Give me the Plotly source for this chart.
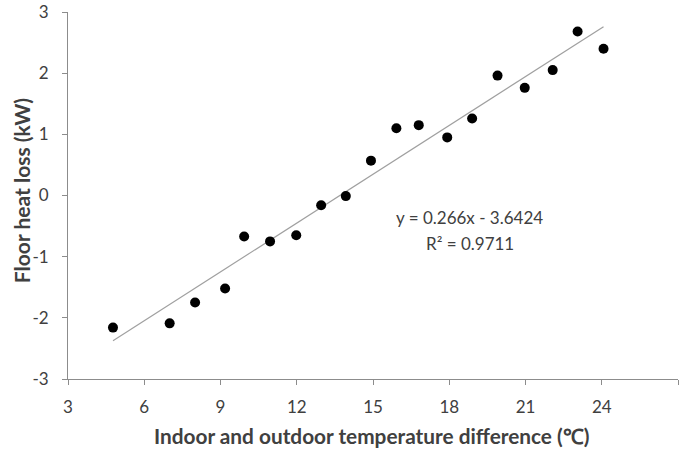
import plotly.graph_objects as go

temp_diff = [4.77, 7.0, 8.0, 9.18, 9.93, 10.95, 11.98, 12.96, 13.93, 14.92,
             15.92, 16.8, 17.92, 18.9, 19.9, 20.97, 22.07, 23.05, 24.07]
heat_loss = [-2.16, -2.09, -1.75, -1.52, -0.67, -0.75, -0.65, -0.16, -0.01, 0.57,
             1.10, 1.15, 0.95, 1.26, 1.96, 1.76, 2.05, 2.68, 2.40]
slope = 0.266
intercept = -3.6424
r2_text = "R² = 0.9711"
eq_text = "y = 0.266x - 3.6424"
x_ticks = [3, 6, 9, 12, 15, 18, 21, 24, 27]
y_ticks = [-3, -2, -1, 0, 1, 2, 3]
x_title = "Indoor and outdoor temperature difference (℃)"
y_title = "Floor heat loss (kW)"

x_line = [min(temp_diff), max(temp_diff)]
y_line = [slope * v + intercept for v in x_line]

font_family = "Lato, Open Sans, sans-serif"
txt = "#404040"
axc = "#8c8c8c"

fig = go.Figure()
fig.add_trace(go.Scatter(x=x_line, y=y_line, mode="lines",
                         line=dict(color="#a0a0a0", width=1.2), showlegend=False))
fig.add_trace(go.Scatter(x=temp_diff, y=heat_loss, mode="markers",
                         marker=dict(color="black", size=10), showlegend=False))

fig.update_layout(
    width=682, height=449,
    margin=dict(l=68, r=4, t=12, b=70),
    plot_bgcolor="white", paper_bgcolor="white",
    font=dict(family=font_family, color=txt, size=17),
    annotations=[
        dict(x=18.8, y=-0.36, xref="x", yref="y", text=eq_text, showarrow=False,
             font=dict(size=17, color=txt)),
        dict(x=18.8, y=-0.78, xref="x", yref="y", text=r2_text, showarrow=False,
             font=dict(size=17, color=txt)),
        dict(x=0.498, y=-0.153, xref="paper", yref="paper", text="<b>" + x_title + "</b>",
             showarrow=False, xanchor="center", yanchor="middle",
             font=dict(size=20.8, color=txt)),
        dict(x=-0.077, y=0.512, xref="paper", yref="paper", text="<b>" + y_title + "</b>",
             showarrow=False, xanchor="center", yanchor="middle", textangle=-90,
             font=dict(size=21, color=txt)),
    ],
)
fig.update_xaxes(range=[3, 27], tickvals=x_ticks, ticktext=[str(v) for v in x_ticks],
                 ticks="outside", ticklen=5, ticklabelstandoff=8,
                 tickcolor=axc, showline=True, linecolor=axc, linewidth=1,
                 showgrid=False, zeroline=False, automargin=False,
                 tickfont=dict(size=17, color=txt))
fig.update_yaxes(range=[-3, 3], tickvals=y_ticks, ticktext=[str(v) for v in y_ticks],
                 ticks="outside", ticklen=5, ticklabelstandoff=10,
                 tickcolor=axc, showline=True, linecolor=axc, linewidth=1,
                 showgrid=False, zeroline=False, automargin=False,
                 tickfont=dict(size=17, color=txt))

fig.write_html("out.html")
